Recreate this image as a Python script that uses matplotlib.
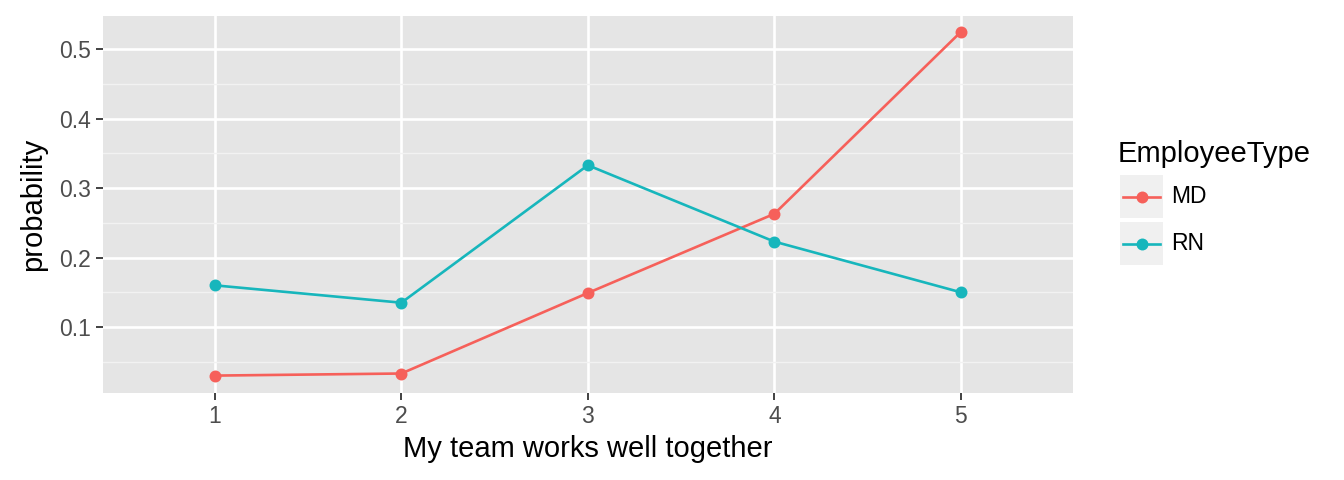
import matplotlib
matplotlib.use("Agg")
import matplotlib.pyplot as plt
from matplotlib.patches import Rectangle
from matplotlib.lines import Line2D

plt.rcParams['font.family'] = ['Liberation Sans', 'DejaVu Sans']

# data
x_levels = [1, 2, 3, 4, 5]
md_prob = [0.030, 0.033, 0.149, 0.263, 0.525]
rn_prob = [0.160, 0.135, 0.333, 0.223, 0.150]
series_names = ["MD", "RN"]
series_colors = ["#F6605A", "#17B6BC"]
y_ticks = [0.1, 0.2, 0.3, 0.4, 0.5]
y_minor = [0.05, 0.15, 0.25, 0.35, 0.45]

W, H = 1344, 480
fig = plt.figure(figsize=(W / 100, H / 100), dpi=100)
L, R, B, T = 103, 1072.7, 392.7, 15.7
ax = fig.add_axes([L / W, 1 - B / H, (R - L) / W, (B - T) / H])
ax.set_facecolor("#E5E5E5")
for s in ax.spines.values():
    s.set_visible(False)

ax.set_xlim(0.4, 5.6)
ax.set_ylim(0.00536, 0.5484)
ax.set_xticks(x_levels)
ax.set_xticklabels([str(v) for v in x_levels])
ax.set_yticks(y_ticks)
ax.set_yticklabels([f"{v:.1f}" for v in y_ticks])
ax.set_yticks(y_minor, minor=True)
ax.grid(which="major", color="white", linewidth=1.9)
ax.grid(which="minor", axis="y", color="#F2F2F2", linewidth=1.0)
ax.set_axisbelow(True)
ax.tick_params(which="major", length=5, width=1.3, color="#333333",
               labelcolor="#4D4D4D", labelsize=16.5, pad=4)
ax.tick_params(which="minor", length=0)

for vals, col in zip([md_prob, rn_prob], series_colors):
    ax.plot(x_levels, vals, color=col, linewidth=1.9, marker="o",
            markersize=8.6, markeredgewidth=0, zorder=3)

ax.set_xlabel("My team works well together", fontsize=21, color="black", labelpad=5)
ax.set_ylabel("probability", fontsize=21, color="black", labelpad=8)

# legend (manual, ggplot style)
def fx(px):
    return px / W
def fy(py):
    return 1 - py / H

fig.text(fx(1118), fy(154), "EmployeeType", fontsize=21, va="center", ha="left")
key_tops = [175, 222]
for top, name, col in zip(key_tops, series_names, series_colors):
    fig.add_artist(Rectangle((fx(1120), fy(top + 43)), 43 / W, 43 / H,
                             transform=fig.transFigure, facecolor="#F0F0F0",
                             edgecolor="none"))
    yc = top + 21.5
    fig.add_artist(Line2D([fx(1123), fx(1160)], [fy(yc), fy(yc)],
                          transform=fig.transFigure, color=col, linewidth=1.9))
    fig.add_artist(Line2D([fx(1141.5)], [fy(yc)], transform=fig.transFigure,
                          color=col, marker="o", markersize=8.6, markeredgewidth=0))
    fig.text(fx(1171), fy(yc), name, fontsize=16.5, va="center", ha="left")

fig.savefig("out.png", dpi=100)
